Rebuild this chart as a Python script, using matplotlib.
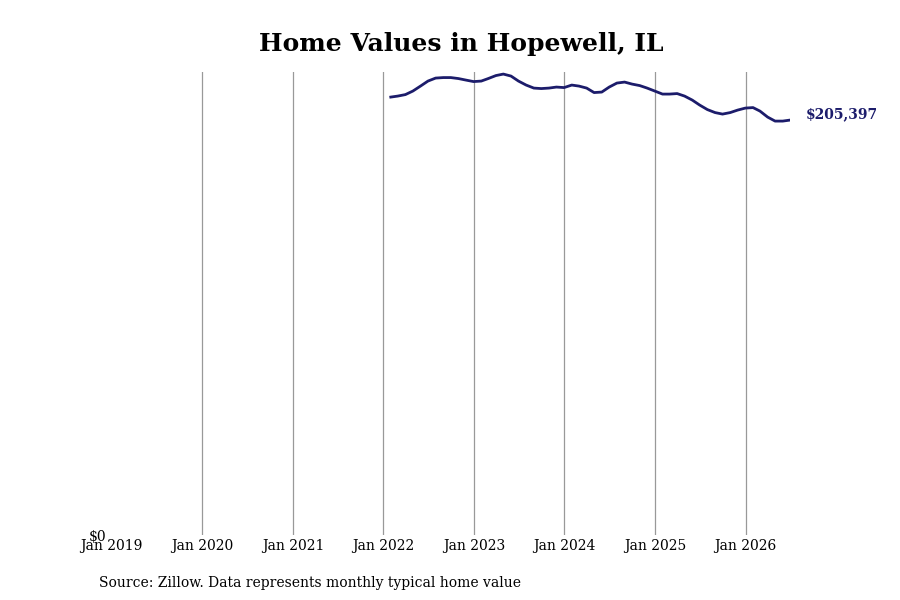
import pandas as pd
import matplotlib.pyplot as plt
import matplotlib.dates as mdates
from matplotlib.ticker import FuncFormatter

plt.rcParams['font.family'] = 'DejaVu Serif'

# monthly typical home value, month-end dates
dates = pd.date_range("2022-01-31", periods=54, freq="ME")
values = [
    216770, 217260, 218000, 219740, 222220, 224690, 226170, 226420, 226420, 225930, 225180, 224440,
    224690, 225930, 227410, 228150, 227160, 224690, 222710, 221220, 220980, 221220, 221720, 221470,
    222710, 222210, 221220, 219000, 219250, 221720, 223700, 224190, 223200, 222460, 221220, 219740,
    218250, 218250, 218500, 217260, 215280, 212810, 210580, 209100, 208350, 209100, 210330, 211320,
    211570, 209840, 206870, 204890, 204890, 205397,
]
year_ticks = pd.date_range("2019-01-01", "2026-01-01", freq="YS")

fig = plt.figure(figsize=(9, 6), dpi=100)
ax = fig.add_axes([0.124, 0.108, 0.754, 0.772])

ax.plot(dates, values, color="#1c1c6b", linewidth=2)
ax.set_xlim(pd.Timestamp("2019-01-01"), dates[-1])
ax.set_ylim(0, max(values) * 1.0045)

ax.set_xticks(year_ticks)
ax.xaxis.set_major_formatter(mdates.DateFormatter("%b %Y"))
ax.set_yticks([0])
ax.yaxis.set_major_formatter(FuncFormatter(lambda v, p: f"${v:,.0f}"))
ax.tick_params(length=0, labelsize=10)
ax.tick_params(axis="x", pad=3)
ax.tick_params(axis="y", pad=4)

ax.grid(axis="x", color="#999999", linewidth=0.9)
ax.grid(axis="y", visible=False)
ax.get_xgridlines()[0].set_visible(False)
for s in ax.spines.values():
    s.set_visible(False)

ax.annotate(f"${values[-1]:,}", xy=(dates[-1], values[-1]), xytext=(11, 4),
            textcoords="offset points", color="#1c1c6b", fontsize=10,
            fontweight="bold", va="center", ha="left")

fig.suptitle("Home Values in Hopewell, IL", fontsize=18, fontweight="bold", x=0.512, y=0.947)
fig.text(0.11, 0.022, "Source: Zillow. Data represents monthly typical home value", fontsize=10)

fig.savefig("out.png", dpi=100)
